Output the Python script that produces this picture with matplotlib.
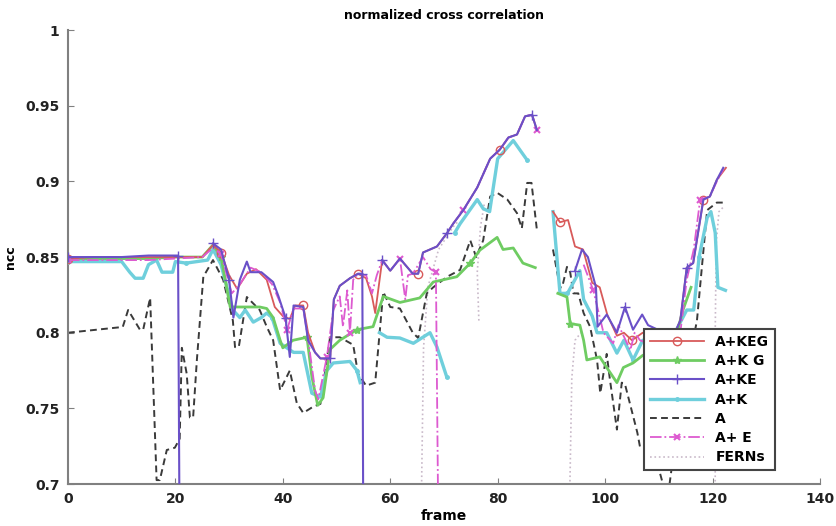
import numpy as np
import matplotlib
matplotlib.use("Agg")
import matplotlib.pyplot as plt

nan = np.nan

# A+KEG (red, circles)
keg_f = [0, 5, 10, 15, 20, 25, 27, 28.5, 30, 31.5, 33.3, 35, 37, 38.5, 40, 41.3, 42.3, 43.8, 44.7, 46, 47,
         48.8, 49.5, 50.6, 52.5, 54, 55.5, 56.6, 57.2, 58.5, 60, 61.8, 64.2, 65.2, 66.1, 68.7, 70.6, 71.7,
         73.6, 76.2, 78.6, 80.4, 82, 83.6, 85.1, 86.4, 87.3, nan, 90.3, 91.6, 93.1, 94.4, 95.9, 97.6, 99,
         100.4, 102.2, 103.5, 105, 107, 109, 111, 113, 114, 115.2, 116.4, 118.3, 119.5, 120.8, 122.5]
keg_v = [0.849, 0.85, 0.85, 0.85, 0.85, 0.85, 0.858, 0.853, 0.838, 0.829, 0.839, 0.842, 0.835, 0.817, 0.811,
         0.809, 0.818, 0.818, 0.80, 0.787, 0.783, 0.783, 0.822, 0.831, 0.836, 0.839, 0.836, 0.824, 0.813,
         0.848, 0.841, 0.849, 0.839, 0.839, 0.853, 0.857, 0.866, 0.872, 0.881, 0.896, 0.915, 0.921, 0.929,
         0.931, 0.943, 0.944, 0.934, nan, 0.880, 0.873, 0.8745, 0.857, 0.855, 0.833, 0.830, 0.812, 0.798,
         0.80, 0.795, 0.80, 0.795, 0.795, 0.80, 0.808, 0.843, 0.846, 0.888, 0.890, 0.901, 0.909]

# A+K G (green, stars)
kg_f = [0, 5, 10, 15, 20, 25, 27, 28.5, 30.2, 32, 35.7, 37, 38.2, 39.5, 40, 41.9, 44.5, 45.4, 46.5, 47.5,
        48.8, 50.6, 53.8, 56.8, 58.7, 61.8, 65.5, 68, 72.4, 74.9, 76.7, 79.9, 81, 82.9, 84.7, 87, nan,
        91.2, 92.9, 93.5, 95.3, 96, 96.6, 99, 100.3, 102.2, 103.4, 105.2, 107, 110, 113, 114.5, 116]
kg_v = [0.849, 0.849, 0.849, 0.849, 0.85, 0.85, 0.858, 0.85, 0.817, 0.817, 0.817, 0.816, 0.810, 0.795,
        0.790, 0.795, 0.797, 0.771, 0.752, 0.757, 0.789, 0.795, 0.802, 0.804, 0.824, 0.820, 0.823, 0.8335,
        0.837, 0.846, 0.8546, 0.863, 0.855, 0.856, 0.846, 0.843, nan, 0.826, 0.8236, 0.806, 0.805, 0.795,
        0.782, 0.784, 0.777, 0.767, 0.777, 0.780, 0.785, 0.79, 0.795, 0.815, 0.83]

# A+KE (blue-violet, plus)
ke_f = [0, 5, 10, 15, 20.5, 20.8, nan, 27, 28.5, 30, 30.8, 32, 33.3, 34, 36, 38.2, 39.2, 40.5, 41.3, 42,
        43.8, 44.7, 46, 47, 48.8, 49.5, 50.6, 52.5, 54, 54.8, 55, nan, 58.5, 60, 61.8, 64.2, 65.2, 66.1,
        68.7, 70.6, 71.7, 73.6, 76.2, 78.6, 80.4, 82, 83.6, 85.1, 86.4, 87.3, nan, 94.4, 95.7, 96.8, 98.3,
        98.6, 100.3, 102.2, 103.7, 105.2, 106.9, 108, 111, 113, 114, 115.2, 116.4, 118.3, 119.5, 120.8, 122]
ke_v = [0.85, 0.85, 0.85, 0.851, 0.851, 0.65, nan, 0.859, 0.855, 0.835, 0.81, 0.835, 0.847, 0.84, 0.84,
        0.8335, 0.824, 0.81, 0.784, 0.818, 0.817, 0.795, 0.787, 0.783, 0.783, 0.822, 0.831, 0.836, 0.839,
        0.839, 0.65, nan, 0.848, 0.841, 0.849, 0.839, 0.839, 0.853, 0.857, 0.866, 0.872, 0.881, 0.896,
        0.915, 0.921, 0.929, 0.931, 0.943, 0.944, 0.934, nan, 0.841, 0.855, 0.85, 0.83, 0.804, 0.812,
        0.800, 0.817, 0.802, 0.812, 0.805, 0.80, 0.80, 0.808, 0.843, 0.846, 0.888, 0.890, 0.901, 0.909]

# A+K (cyan, dots)
k_f = [0, 5, 10, 11.5, 12.5, 14, 15, 16.5, 17.5, 19.5, 20, 22, 24, 26, 27, 28.5, 30.7, 32, 33, 34.5, 36,
       37, 38, 39.5, 42, 43.8, 45.4, 47, 48.2, 49.4, 52.5, 53.8, 54.4, nan, 58, 59.4, 61.8, 64.3, 67.4,
       68.7, 70.5, nan, 72, 73, 76.2, 77.3, 78.5, 80, 82.9, 85.5, nan, 90.3, 91.6, 93, 95.3, 96, 97.6,
       98.5, 100.3, 102.2, 103.5, 105.2, 107, 110, 113, 115.2, 116.5, 117.5, 119, 119.7, 120.5, 121,
       122.4]
k_v = [0.847, 0.847, 0.847, 0.840, 0.836, 0.836, 0.845, 0.848, 0.840, 0.840, 0.847, 0.846, 0.847, 0.848,
       0.855, 0.845, 0.815, 0.81, 0.815, 0.807, 0.81, 0.813, 0.81, 0.793, 0.787, 0.787, 0.760, 0.7575,
       0.775, 0.780, 0.781, 0.775, 0.767, nan, 0.800, 0.797, 0.7965, 0.793, 0.800, 0.7905, 0.771, nan,
       0.866, 0.872, 0.888, 0.882, 0.880, 0.915, 0.927, 0.914, nan, 0.880, 0.826, 0.826, 0.841, 0.822,
       0.811, 0.80, 0.80, 0.7865, 0.795, 0.782, 0.795, 0.79, 0.80, 0.815, 0.815, 0.85, 0.876, 0.88,
       0.866, 0.830, 0.828]

# A (black dashed)
a_f = [0, 10.2, 11.2, 13.4, 14, 15.3, 16.5, 17.1, 18.4, 19.9, 20.8, 21.2, 22.1, 22.7, 23.3, 24, 25.2, 27,
       28.9, 30.7, 31.1, 31.8, 33.3, 35.7, 37, 38.2, 39.5, 41.3, 42.6, 43.8, 45.6, 47, 48.8, 50.6, 53.1,
       54, 55.5, 57.2, 58.7, 60, 61.8, 64.2, 65.2, 66.8, 68, 70.6, 73, 74.9, 75.5, 76, 77.3, 78.6, 79.9,
       81.8, 83.6, 84.5, 85.5, 86.3, 87.3, nan, 90.3, 91.6, 92, 92.9, 93.5, 94.1, 95, 96, 97.2, 98.5,
       99.1, 100.3, 100.9, 102.2, 103.1, 103.7, 106, 106.5, 108, 110, 111, 112, 113.5, 115, 117.1, 119,
       120.8, 122]
a_v = [0.80, 0.8038, 0.815, 0.802, 0.802, 0.823, 0.7026, 0.7026, 0.7225, 0.724, 0.73, 0.79, 0.773,
       0.744, 0.744, 0.782, 0.837, 0.848, 0.835, 0.808, 0.7905, 0.7905, 0.8236, 0.815, 0.804, 0.795,
       0.762, 0.775, 0.7535, 0.747, 0.751, 0.753, 0.797, 0.797, 0.792, 0.773, 0.765, 0.767, 0.827,
       0.817, 0.816, 0.80, 0.7965, 0.826, 0.830, 0.837, 0.8415, 0.861, 0.855, 0.85, 0.861, 0.890,
       0.8925, 0.888, 0.879, 0.869, 0.899, 0.899, 0.868, nan, 0.855, 0.830, 0.83, 0.8435, 0.84, 0.826,
       0.826, 0.813, 0.804, 0.782, 0.760, 0.786, 0.769, 0.736, 0.767, 0.766, 0.734, 0.7245, 0.724,
       0.71, 0.697, 0.70, 0.74, 0.77, 0.808, 0.881, 0.886, 0.886]

# A+ E (magenta dash-dot, x)
e_f = [0, 5, 10, 15, 20, 25, 27, 28.5, 30.5, 32, 34, 36, 38, 39.5, 40.8, 42, 43.8, 44.7, 46, 46.6, 48.2,
       49.4, 50.6, 51.2, 52, 52.5, 53.1, 54, 55.5, 56.6, 57.5, 58.5, 60, 61.8, 62.8, 63.3, 64.2, 66.1,
       67.5, 68.5, 68.9, nan, 71.7, 73.6, 76.2, 78.6, 80.4, 82, 83.6, 85.1, 86.4, 87.3, nan, 96, 97.8,
       99.7, 101.5, 102.5, 104.7, 105.5, 106.5, 110, 113, 114, 115.2, 116.5, 117.7, 119.5, 120.8, 122]
e_v = [0.848, 0.848, 0.848, 0.848, 0.849, 0.85, 0.856, 0.852, 0.826, 0.832, 0.843, 0.84, 0.832, 0.82,
       0.802, 0.816, 0.816, 0.796, 0.762, 0.756, 0.784, 0.815, 0.824, 0.804, 0.828, 0.80, 0.835, 0.839,
       0.838, 0.826, 0.838, 0.848, 0.841, 0.849, 0.822, 0.838, 0.839, 0.85, 0.842, 0.84, 0.69, nan, 0.872,
       0.881, 0.896, 0.915, 0.921, 0.929, 0.931, 0.943, 0.944, 0.934, nan, 0.845, 0.828, 0.80, 0.793,
       0.805, 0.7885, 0.80, 0.795, 0.79, 0.78, 0.80, 0.835, 0.855, 0.888, 0.89, 0.90, 0.908]

# FERNs (light dotted)
fern_f = [65.8, 66.2, 67, 69, 71.7, 72.5, nan, 76.5, 76.2, 76.8, 77.5, nan, 93.4, 93.8, 94.4, 95.5, nan,
          120.5, 120.5, 120.7, 121.2, 122]
fern_v = [0.69, 0.79, 0.83, 0.855, 0.870, 0.873, nan, 0.808, 0.84, 0.87, 0.885, nan, 0.69, 0.77, 0.795,
          0.80, nan, 0.69, 0.80, 0.86, 0.88, 0.883]

x_ticks = [0, 20, 40, 60, 80, 100, 120, 140]
y_ticks = [0.7, 0.75, 0.8, 0.85, 0.9, 0.95, 1]
y_labels = ["0.7", "0.75", "0.8", "0.85", "0.9", "0.95", "1"]

fig = plt.figure(figsize=(8.36, 5.26), dpi=100)
ax = fig.add_axes([0.0813, 0.0798, 0.8995, 0.863])

every = 0.18
lines = {}
lines["FERNs"] = ax.plot(fern_f, fern_v, ':', color='#c9b9c9', lw=1.2, zorder=1)[0]
lines["A"] = ax.plot(a_f, a_v, '--', color='#3a3a3a', lw=1.4, dashes=(3.5, 2.2), zorder=2)[0]
lines["A+K"] = ax.plot(k_f, k_v, '-', color='#6fcfdc', lw=2.4, marker='.', ms=5,
                       markevery=every, zorder=3)[0]
lines["A+K G"] = ax.plot(kg_f, kg_v, '-', color='#6fcc62', lw=2.0, marker='*', ms=6,
                         markevery=every, zorder=4)[0]
lines["A+KEG"] = ax.plot(keg_f, keg_v, '-', color='#d85a5a', lw=1.3, marker='o', ms=6, mfc='none',
                         markevery=every, zorder=5)[0]
lines["A+ E"] = ax.plot(e_f, e_v, '-.', color='#dd5ad0', lw=1.3, marker='x', ms=5, mew=1.5,
                        markevery=every, zorder=6)[0]
lines["A+KE"] = ax.plot(ke_f, ke_v, '-', color='#6a50c8', lw=1.5, marker='+', ms=7,
                        markevery=every, zorder=7)[0]

order = ["A+KEG", "A+K G", "A+KE", "A+K", "A", "A+ E", "FERNs"]
leg = ax.legend([lines[k] for k in order], order, loc='lower right', bbox_to_anchor=(0.94, 0.031),
                borderaxespad=0, fancybox=False, framealpha=1, edgecolor='#444444', handlelength=3.9,
                prop={'weight': 'bold', 'size': 10}, borderpad=0.4, labelspacing=0.38)
leg.get_frame().set_linewidth(1.5)
leg.set_zorder(10)

ax.set_xlim(0, 140)
ax.set_ylim(0.7, 1)
ax.set_xticks(x_ticks)
ax.set_yticks(y_ticks)
ax.set_yticklabels(y_labels)
for s in ['top', 'right']:
    ax.spines[s].set_visible(False)
for s in ['left', 'bottom']:
    ax.spines[s].set_color('#808080')
    ax.spines[s].set_linewidth(1.5)
ax.tick_params(direction='in', length=4, color='#808080', labelsize=10, pad=6)
for lab in ax.get_xticklabels() + ax.get_yticklabels():
    lab.set_fontweight('bold')
    lab.set_color('#222222')

ax.set_title("normalized cross correlation", fontsize=9, fontweight='bold', pad=8)
ax.set_xlabel("frame", fontsize=10, fontweight='bold', labelpad=2)
ax.set_ylabel("ncc", fontsize=9, fontweight='bold', labelpad=6)

fig.savefig("out.png", dpi=100)
